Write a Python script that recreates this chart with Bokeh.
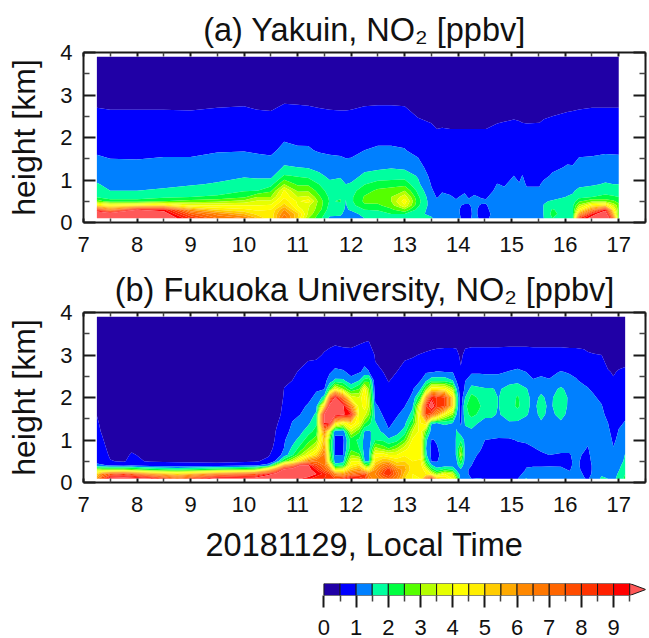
import numpy as np
from bokeh.embed import file_html
from bokeh.layouts import column
from bokeh.models import CustomLabelingPolicy, FixedTicker, LinearAxis, Range1d, Title
from bokeh.plotting import figure
from bokeh.resources import INLINE
from bokeh.core.properties import field

LEVELS = [0, .5, 1, 1.5, 2, 2.5, 3, 3.5, 4, 4.5, 5, 5.5, 6, 6.5, 7, 7.5, 8, 8.5, 9, 9.5, 20]
COLORS = ["#2000A6", "#0000FF", "#0080FF", "#00FF9F", "#00FF40", "#55FF00", "#B4FF00", "#E6FF00",
          "#FFFF00", "#FFEE00", "#FFCC00", "#FFAA00", "#FF8800", "#FF7700", "#FF6600", "#FF4C00",
          "#FF3300", "#FF2000", "#FF0000", "#FF5858"]
BAR_TICKS = [0, 1, 2, 3, 4, 5, 6, 7, 8, 9]
TITLE_A = "(a) Yakuin, NO₂ [ppbv]"
TITLE_B = "(b) Fukuoka University, NO₂ [ppbv]"
XLABEL = "20181129, Local Time"
YLABEL = "height [km]"
HOURS = list(range(7, 18))
KM = [0, 1, 2, 3, 4]

HEIGHT_A = [.1, .2, .3, .4, .5, .6, .75, .9, 1.1, 1.3, 1.7, 2.2, 3.0, 3.9]
TIME_A = [7.25, 7.5, 8, 8.5, 9, 9.5, 10, 10.25, 10.5, 10.75, 11, 11.2, 11.4, 11.6, 11.8, 11.9, 12, 12.25,
          12.5, 12.75, 13, 13.25, 13.5, 13.6, 13.7, 13.85, 13.96, 14.12, 14.2, 14.3, 14.43, 14.52, 14.73,
          14.86, 15.04, 15.14, 15.2, 15.28, 15.52, 15.6, 15.76, 16.04, 16.14, 16.26, 16.5, 16.75, 16.9, 17]
NO2_A = [
    [12, 11, 8.5, 4.8, 2.8, 1.97, 1.75, 1.53, 1.35, 1.2, .93, .75, .35, .1],
    [12, 10.5, 6.5, 4.4, 2.2, 1.8, 1.5, 1.4, 1.25, 1.1, .9, .72, .33, .1],
    [12, 12, 9.5, 4.6, 2.2, 1.8, 1.5, 1.4, 1.25, 1.1, .88, .72, .33, .1],
    [10.5, 10, 9.2, 5, 2.5, 1.9, 1.55, 1.42, 1.28, 1.12, .92, .72, .33, .1],
    [8.5, 7.5, 6, 4, 2.7, 2.0, 1.7, 1.45, 1.3, 1.12, .92, .7, .33, .1],
    [7, 6.3, 5, 4, 2.9, 2.1, 1.75, 1.55, 1.35, 1.2, .97, .78, .33, .1],
    [6.5, 5.5, 4.6, 4, 3.2, 2.4, 1.95, 1.7, 1.45, 1.25, .98, .8, .35, .1],
    [5.5, 4.8, 4.4, 4, 3.6, 3, 2, 1.7, 1.4, 1.2, .95, .72, .33, .1],
    [4.5, 4.6, 4.5, 4.1, 3.6, 3, 2.4, 1.8, 1.35, 1.18, .92, .68, .34, .1],
    [7, 6.5, 6, 5.2, 4.8, 4.4, 4.1, 3, 2.05, 1.55, 1.1, .85, .38, .1],
    [5, 5.2, 4.4, 4, 3.9, 3.5, 2.9, 2.4, 1.95, 1.5, 1.05, .82, .37, .1],
    [3, 3.4, 3.5, 3.6, 4.3, 3.6, 2.9, 2.4, 1.85, 1.45, 1.05, .8, .36, .1],
    [2.2, 2.4, 2.7, 2.8, 2.8, 2.6, 2.3, 2, 1.6, 1.35, .95, .76, .34, .1],
    [1.4, 1.6, 1.75, 1.85, 1.95, 1.9, 1.75, 1.6, 1.4, 1.2, .93, .72, .33, .1],
    [1.35, 1.6, 1.75, 1.85, 2.05, 1.95, 1.8, 1.65, 1.45, 1.2, .9, .7, .33, .1],
    [1.15, 1.3, 1.4, 1.45, 1.48, 1.55, 1.6, 1.5, 1.35, 1.15, .87, .7, .33, .1],
    [1.0, 1.2, 1.6, 1.8, 1.9, 1.9, 1.8, 1.55, 1.3, 1.15, .88, .72, .33, .1],
    [1.5, 1.75, 2, 2.4, 2.6, 2.55, 2.3, 1.98, 1.6, 1.35, 1, .8, .35, .1],
    [1.6, 1.8, 2.05, 2.4, 2.65, 2.8, 2.6, 2.2, 1.7, 1.4, 1.05, .82, .36, .1],
    [1.7, 2, 2.4, 2.75, 3, 3, 2.8, 2.2, 1.8, 1.45, 1.05, .82, .36, .1],
    [1.7, 2, 2.9, 3.9, 4.3, 3.8, 3, 2.3, 1.75, 1.4, 1.02, .8, .35, .1],
    [1.55, 1.6, 1.8, 2.1, 2.2, 2.1, 1.85, 1.6, 1.45, 1.2, .85, .6, .3, .1],
    [1.55, 1.4, 1.3, 1.25, 1.2, 1.15, 1.05, .97, .85, .75, .65, .55, .25, .1],
    [1.35, 1.3, 1.2, 1.1, 1.05, .98, .9, .85, .8, .7, .6, .5, .23, .1],
    [1.3, 1.25, 1.2, 1.15, 1.1, 1.05, .98, .88, .8, .72, .62, .51, .22, .1],
    [1.15, 1.12, 1.1, 1.08, 1.05, 1.03, .93, .83, .76, .7, .62, .5, .22, .1],
    [1.1, 1.08, 1.07, 1.06, 1.03, .97, .85, .78, .74, .7, .62, .5, .22, .1],
    [.92, .9, .9, .96, 1.08, 1.06, .96, .85, .78, .72, .62, .5, .22, .1],
    [.92, .9, .92, .97, 1.05, .97, .85, .8, .75, .7, .62, .5, .22, .1],
    [1.1, 1.08, 1.08, 1.07, 1.06, 1.04, .92, .82, .75, .7, .62, .5, .22, .1],
    [.93, .9, .9, .97, 1.05, .98, .88, .8, .75, .7, .62, .5, .22, .1],
    [.96, .92, .95, .98, 1.03, .97, .85, .8, .75, .7, .62, .5, .23, .1],
    [1.1, 1.12, 1.14, 1.15, 1.15, 1.14, 1.08, 1.01, .87, .75, .65, .55, .24, .1],
    [1.1, 1.12, 1.12, 1.12, 1.12, 1.1, 1.05, .97, .85, .74, .65, .57, .24, .1],
    [1.1, 1.12, 1.14, 1.15, 1.16, 1.16, 1.14, 1.1, 1.0, .85, .7, .6, .24, .1],
    [1.1, 1.12, 1.12, 1.12, 1.12, 1.1, 1.08, 1.02, .92, .8, .68, .58, .24, .1],
    [1.1, 1.1, 1.12, 1.12, 1.14, 1.14, 1.12, 1.08, 1.01, .85, .7, .56, .24, .1],
    [1.1, 1.1, 1.1, 1.1, 1.1, 1.08, 1.05, .97, .88, .8, .68, .55, .24, .1],
    [1.35, 1.3, 1.28, 1.25, 1.2, 1.15, 1.05, .97, .88, .8, .68, .56, .24, .1],
    [1.5, 1.52, 1.52, 1.52, 1.45, 1.3, 1.2, 1.1, .9, .82, .7, .6, .25, .1],
    [2, 2.15, 2.05, 1.8, 1.55, 1.35, 1.25, 1.18, 1.05, .92, .75, .65, .25, .1],
    [1.7, 1.7, 1.7, 1.7, 1.65, 1.52, 1.4, 1.3, 1.15, 1.03, .85, .7, .3, .1],
    [1.8, 1.8, 1.9, 1.9, 1.7, 1.55, 1.45, 1.3, 1.15, 1.02, .85, .7, .32, .1],
    [8.5, 6, 4.2, 3.2, 2.4, 1.85, 1.6, 1.4, 1.25, 1.1, .93, .73, .33, .1],
    [10, 9, 6.5, 4.6, 2.9, 2, 1.75, 1.42, 1.3, 1.15, .92, .75, .35, .1],
    [12, 10.5, 9.2, 5, 2.9, 2.1, 1.85, 1.55, 1.3, 1.18, .95, .75, .35, .1],
    [7, 5.5, 4.5, 3.5, 2.6, 2.05, 1.8, 1.5, 1.3, 1.18, .94, .75, .35, .1],
    [2.3, 2.5, 2.6, 2.7, 2.3, 2.0, 1.7, 1.5, 1.3, 1.2, .93, .75, .35, .1],
]

HEIGHT_B = [.09, .2, .3, .4, .5, .65, .8, 1, 1.2, 1.4, 1.6, 1.8, 2, 2.2, 2.4, 2.6, 3, 3.3, 3.9]
TIME_B = [7.25, 7.35, 7.5, 7.75, 7.9, 8.25, 8.75, 9.5, 10.2, 10.45, 10.6, 10.75, 10.9, 11.05, 11.2, 11.35,
          11.5, 11.6, 11.7, 11.85, 12, 12.15, 12.25, 12.33, 12.45, 12.6, 12.7, 12.85, 13, 13.15, 13.3, 13.4,
          13.5, 13.6, 13.75, 13.9, 13.97, 14.05, 14.13, 14.25, 14.4, 14.5, 14.62, 14.75, 14.95, 15.11, 15.27,
          15.4, 15.55, 15.7, 15.92, 16.08, 16.2, 16.35, 16.42, 16.52, 16.68, 16.8, 16.9, 17, 17.12]
NO2_B = [
    [6, 5, 3.2, 1.2, .8, .72, .68, .65, .6, .56, .49, .42, .36, .3, .26, .22, .18, .15, .1],
    [8, 6.5, 3, 1.1, .72, .66, .6, .54, .46, .4, .35, .3, .25, .22, .2, .18, .15, .12, .1],
    [10, 7.5, 3, .95, .52, .45, .4, .3, .25, .22, .2, .18, .16, .15, .14, .13, .12, .11, .1],
    [10, 8, 3, .85, .46, .38, .3, .25, .22, .2, .18, .16, .15, .14, .13, .13, .12, .11, .1],
    [10, 7.5, 2.8, 1.0, .62, .55, .42, .3, .22, .2, .18, .16, .15, .14, .13, .13, .12, .11, .1],
    [9.6, 6, 2.3, .85, .44, .35, .3, .25, .22, .2, .18, .16, .15, .14, .13, .13, .12, .11, .1],
    [7.5, 5, 2, .8, .42, .35, .3, .25, .22, .2, .18, .16, .15, .14, .13, .13, .12, .11, .1],
    [10, 6.5, 2.5, .75, .38, .32, .3, .25, .22, .2, .18, .16, .15, .14, .13, .13, .12, .11, .1],
    [10, 7.5, 3, .95, .45, .38, .3, .25, .22, .2, .18, .16, .15, .14, .13, .13, .12, .11, .1],
    [11, 9, 5, 1.3, .6, .45, .35, .3, .25, .22, .2, .18, .16, .15, .14, .13, .12, .11, .1],
    [11, 10, 7, 3.2, 1.1, .7, .62, .55, .52, .45, .35, .3, .25, .2, .18, .16, .13, .11, .1],
    [12, 11, 10, 6, 2.5, 1.2, 1.02, .95, .78, .68, .62, .58, .54, .51, .45, .3, .2, .15, .1],
    [11, 12, 10.5, 7, 3.5, 1.9, 1.6, 1.3, 1.15, 1.02, .9, .82, .72, .62, .5, .42, .25, .15, .1],
    [9.5, 12, 11, 9.6, 5, 3, 2.2, 1.7, 1.35, 1.1, 1, .9, .8, .7, .6, .55, .3, .2, .1],
    [9.2, 10, 9.8, 9.6, 6.5, 4, 3, 2.3, 1.8, 1.4, 1.2, 1.05, .9, .8, .7, .65, .42, .2, .1],
    [8.5, 9.5, 9, 8, 7, 5, 3.8, 2.8, 2.2, 1.9, 1.6, 1.3, 1.1, .95, .8, .7, .42, .25, .1],
    [8.5, 8.8, 7.5, 7, 7, 6.8, 6, 5.5, 6.5, 9.5, 9.6, 5, 1.7, .98, .85, .75, .54, .38, .1],
    [8.5, 8, 6.5, 5, 3.2, 2.8, 2.5, 2.6, 3.5, 9.6, 10.5, 10, 7, 2.2, 1.2, .95, .6, .42, .1],
    [8, 6.5, 3.8, 1.8, 1.2, .99, .95, .9, 1.1, 5, 10, 11, 9.6, 4, 1.6, 1.1, .65, .45, .1],
    [8.5, 6, 4, 2, 1.3, .99, .95, .9, 1.1, 4, 9.6, 9.7, 7, 3, 1.6, 1.05, .65, .4, .1],
    [9.5, 7, 5.5, 4.5, 4, 3, 2.3, 2.2, 3.5, 5, 9, 6.5, 3.8, 2, 1.1, .9, .62, .4, .1],
    [9, 7.5, 6, 5, 4, 2.6, 2, 1.9, 2.6, 4, 3.8, 3.6, 3.5, 2.5, 1.5, .95, .75, .45, .1],
    [8.5, 8, 5, 3, 1.5, 1.35, 1.3, 1.35, 1.45, 2.6, 3.7, 4.3, 4.6, 4.2, 2.2, 1.1, .8, .5, .1],
    [7, 6.5, 4.5, 2.6, 1.45, 1.3, 1.2, 1.25, 1.4, 2.2, 3, 3.5, 3.3, 3, 2.4, 1.02, .75, .52, .1],
    [6, 6.5, 6, 5.5, 4.8, 4.2, 3.2, 2, 1.7, 1.55, 1.3, 1.1, .85, .7, .6, .55, .47, .25, .1],
    [7, 8, 7.5, 6.5, 5.5, 4.3, 2.8, 1.9, 1.4, 1.12, .95, .8, .7, .62, .55, .5, .3, .18, .1],
    [7.5, 8.5, 8.5, 7, 5.5, 4, 2.5, 1.6, 1.05, .9, .75, .65, .58, .54, .49, .42, .25, .15, .1],
    [6.5, 7, 6.5, 5.5, 4.8, 4, 3, 1.8, 1.3, 1.1, .95, .8, .7, .62, .55, .5, .33, .2, .1],
    [5, 5.3, 5.7, 5.5, 5, 4.4, 3.8, 2.6, 1.7, 1.35, 1.15, .98, .82, .72, .65, .6, .45, .25, .1],
    [4.5, 4.5, 4.6, 4.6, 4.5, 4.4, 4.3, 4.1, 3.5, 2.4, 1.7, 1.4, 1.1, .95, .75, .65, .47, .25, .1],
    [4.5, 4.8, 5, 4.8, 4.6, 4.3, 4.3, 4.2, 4.2, 4.5, 5, 4.3, 2.5, 1.5, 1.0, .85, .52, .3, .1],
    [7, 4.5, 4, 3, 2.2, 1.6, 1.5, 1.6, 2.6, 5, 8, 8.5, 6, 2.8, 1.4, .95, .55, .35, .1],
    [8.5, 4, 2.5, 1.6, .98, .9, .92, .98, 1.2, 1.55, 7.5, 10.5, 9, 4.5, 1.8, .98, .58, .38, .1],
    [5.5, 3, 1.8, 1.2, .98, .95, .98, 1.02, 1.15, 1.5, 6, 8.5, 8.5, 4.5, 1.8, 1.02, .6, .4, .1],
    [5, 4, 2.2, 1.3, 1.15, 1.1, 1.1, 1.1, 1.15, 1.6, 4, 8, 8, 4.3, 1.8, 1, .62, .4, .1],
    [4, 3.5, 2, 1.3, 1.15, 1.1, 1.1, 1.1, 1.15, 1.5, 3, 5, 5, 3.2, 1.5, .98, .62, .4, .1],
    [3, 2, 1.4, 1.3, 1.4, 1.6, 1.6, 1.6, 1.55, 1.4, 1.5, 1.9, 2, 1.5, .95, .8, .6, .4, .1],
    [1.2, 1.2, 1.4, 1.9, 2.5, 3.2, 2.8, 1.9, 1.2, .92, .8, .72, .65, .6, .52, .55, .42, .3, .1],
    [1.1, 1.05, 1.05, 1.1, 1.2, 1.25, 1.3, 1.35, 1.4, 1.55, 1.8, 1.9, 1.5, 1.1, .98, .8, .6, .4, .1],
    [1, .95, .95, 1, 1.05, 1.1, 1.15, 1.25, 1.4, 1.7, 2.15, 2.3, 2.2, 1.7, 1.2, .95, .62, .42, .1],
    [1.02, .9, .8, .75, .85, .95, 1.05, 1.15, 1.3, 1.45, 1.9, 2.05, 1.9, 1.6, 1.2, .95, .62, .42, .1],
    [.98, .8, .7, .7, .75, .82, .9, 1, 1.15, 1.35, 1.6, 1.75, 1.75, 1.55, 1.15, .95, .62, .42, .1],
    [.95, .75, .65, .65, .7, .75, .85, .98, 1.15, 1.35, 1.6, 1.75, 1.8, 1.55, 1.15, .95, .62, .42, .1],
    [1, .8, .7, .7, .72, .75, .85, .97, 1.1, 1.3, 1.45, 1.48, 1.48, 1.42, 1.15, .95, .62, .42, .1],
    [.98, .8, .7, .7, .72, .78, .85, .96, 1.15, 1.45, 1.7, 1.75, 1.75, 1.7, 1.3, 1.02, .65, .42, .1],
    [.98, .85, .75, .72, .75, .8, .9, 1.02, 1.2, 1.42, 1.75, 2.1, 2.05, 1.8, 1.35, 1.08, .65, .42, .1],
    [1.55, 1.15, 1.02, .98, .9, .85, .92, 1.05, 1.15, 1.3, 1.55, 1.65, 1.7, 1.55, 1.15, 1.0, .65, .42, .1],
    [1.15, 1.1, 1.05, .98, .95, .9, .98, 1.1, 1.2, 1.3, 1.35, 1.35, 1.3, 1.2, 1.02, .9, .62, .42, .1],
    [1.2, 1.12, 1.05, .98, .9, .95, 1.05, 1.15, 1.3, 1.45, 1.6, 1.7, 1.6, 1.35, 1.05, .95, .62, .42, .1],
    [1.2, 1.15, 1.1, .97, .92, 1.0, 1.1, 1.2, 1.3, 1.35, 1.4, 1.4, 1.35, 1.25, 1.02, .92, .62, .42, .1],
    [1.2, 1.15, 1.05, .98, .93, .98, 1.05, 1.2, 1.35, 1.45, 1.6, 1.75, 1.8, 1.6, 1.2, 1.02, .62, .42, .1],
    [1.15, 1.05, .98, .95, .95, .98, 1.05, 1.15, 1.25, 1.3, 1.4, 1.4, 1.4, 1.3, 1.1, .97, .6, .42, .1],
    [1.2, 1.15, 1.1, 1.08, 1.07, 1.07, 1.08, 1.15, 1.2, 1.25, 1.3, 1.3, 1.3, 1.2, 1.02, .95, .6, .42, .1],
    [1.02, .97, .92, .9, .92, .97, 1.03, 1.1, 1.15, 1.2, 1.2, 1.2, 1.15, 1.05, .95, .9, .58, .4, .1],
    [.97, .9, .85, .85, .88, .93, .98, 1.05, 1.1, 1.15, 1.15, 1.15, 1.12, 1.02, .92, .82, .54, .38, .1],
    [1.1, 1.05, 1.05, 1.05, 1.08, 1.1, 1.1, 1.12, 1.12, 1.12, 1.1, 1.1, 1.05, .95, .85, .75, .52, .36, .1],
    [1.6, 1.4, 1.25, 1.15, 1.1, 1.1, 1.1, 1.1, 1.1, 1.1, 1.08, 1.02, .92, .8, .72, .65, .5, .3, .1],
    [1.5, 1.3, 1.2, 1.15, 1.1, 1.1, 1.1, 1.1, 1.08, 1, .9, .8, .72, .65, .58, .52, .38, .25, .1],
    [1.3, 1.2, 1.15, 1.1, 1.05, 1.03, 1.01, .96, .85, .75, .68, .62, .58, .55, .52, .48, .35, .2, .1],
    [1.75, 1.6, 1.45, 1.35, 1.25, 1.2, 1.12, 1.05, 1.02, .95, .85, .75, .7, .65, .58, .52, .38, .22, .1],
    [2.1, 2, 1.9, 1.75, 1.6, 1.52, 1.4, 1.25, 1.1, 1.02, .95, .88, .8, .75, .7, .55, .38, .22, .1],
]

INK = "#1a1a1a"
FONT = "Liberation Sans"
NO_LABELS = "for (const i of indices) { indices.unset(i) }\nreturn indices"


def style_axis(ax, ticks, minor, tick_in, minor_in):
    ax.ticker = FixedTicker(ticks=ticks, minor_ticks=minor)
    ax.axis_line_color = INK
    ax.axis_line_width = 2
    ax.major_tick_line_color = INK
    ax.major_tick_line_width = 2
    ax.minor_tick_line_color = "#444444"
    ax.minor_tick_line_width = 1.5
    ax.major_tick_in = tick_in
    ax.major_tick_out = 0
    ax.minor_tick_in = minor_in
    ax.minor_tick_out = 0
    ax.major_label_text_font = FONT
    ax.major_label_text_font_size = "22px"
    ax.major_label_text_color = "#111111"


def panel(times, heights, no2, title, height, top, bottom, xlabel=None):
    p = figure(width=649, height=height, output_backend="svg", toolbar_location=None,
               x_range=Range1d(7, 17.5), y_range=Range1d(0, 4), x_axis_location=None, y_axis_location=None,
               min_border_left=83, min_border_right=2, min_border_top=top, min_border_bottom=bottom)
    p.outline_line_color = None
    p.grid.visible = False
    z = np.array(no2, dtype=float).T
    cr = p.contour(times, heights, z, levels=LEVELS, fill_color=COLORS, line_color=None)
    g = cr.fill_renderer.glyph
    g.line_color = field("fill_color")
    g.line_width = 0.6

    xminor = [h + .5 for h in HOURS[:-1]] + [17.5]
    yminor = [k + .5 for k in KM[:-1]]
    bot = LinearAxis()
    style_axis(bot, HOURS, xminor, 4, 4)
    bot.major_label_standoff = 14
    if xlabel:
        bot.axis_label = xlabel
        bot.axis_label_text_font = FONT
        bot.axis_label_text_font_style = "normal"
        bot.axis_label_text_font_size = "32.5px"
        bot.axis_label_text_color = "#111111"
        bot.axis_label_standoff = 12
    p.add_layout(bot, "below")
    lef = LinearAxis()
    style_axis(lef, KM, yminor, 12, 6)
    lef.major_label_standoff = 11
    lef.axis_label = YLABEL
    lef.axis_label_text_font = FONT
    lef.axis_label_text_font_style = "normal"
    lef.axis_label_text_font_size = "32px"
    lef.axis_label_text_color = "#111111"
    lef.axis_label_standoff = 15
    p.add_layout(lef, "left")
    top_ax = LinearAxis()
    style_axis(top_ax, HOURS, xminor, 4, 4)
    top_ax.major_label_policy = CustomLabelingPolicy(code=NO_LABELS)
    top_ax.major_label_text_font_size = "1px"
    top_ax.major_label_standoff = 0
    p.add_layout(top_ax, "above")
    right_ax = LinearAxis()
    style_axis(right_ax, KM, yminor, 12, 6)
    right_ax.major_label_policy = CustomLabelingPolicy(code=NO_LABELS)
    right_ax.major_label_text_font_size = "1px"
    right_ax.major_label_standoff = 0
    p.add_layout(right_ax, "right")
    t = Title(text=title, align="center", text_font=FONT, text_font_style="normal",
              text_font_size="32.5px", text_color="#111111", standoff=2)
    p.add_layout(t, "above")
    return p


pa = panel(TIME_A, HEIGHT_A, NO2_A, TITLE_A, 262, 52, 40)
pb = panel(TIME_B, HEIGHT_B, NO2_B, TITLE_B, 303, 50, 83, XLABEL)

PX_PER_UNIT = 32.3
bar = figure(width=649, height=73, output_backend="svg", toolbar_location=None,
             x_range=Range1d(-241.3 / PX_PER_UNIT, 322.7 / PX_PER_UNIT), y_range=Range1d(0, 1),
             x_axis_location=None, y_axis_location=None,
             min_border_left=83, min_border_right=2, min_border_top=18, min_border_bottom=43)
bar.outline_line_color = None
bar.grid.visible = False
edges = LEVELS[:-1]
bar.quad(left=edges[:-1], right=edges[1:], bottom=0, top=1, fill_color=COLORS[:-1], line_color=INK, line_width=1)
tip = edges[-1] + (edges[-1] - edges[-2])
bar.patch(x=[edges[-1], tip, edges[-1]], y=[1, .5, 0], fill_color=COLORS[-1], line_color=INK, line_width=1)
ax = LinearAxis()
style_axis(ax, BAR_TICKS, [b + .5 for b in BAR_TICKS], 0, 0)
ax.major_tick_out = 12
ax.minor_tick_out = 6
ax.major_label_standoff = 12
ax.axis_line_color = None
bar.add_layout(ax, "below")

page = column(pa, pb, bar, spacing=0)
open("out.html", "w").write(file_html(page, INLINE))
